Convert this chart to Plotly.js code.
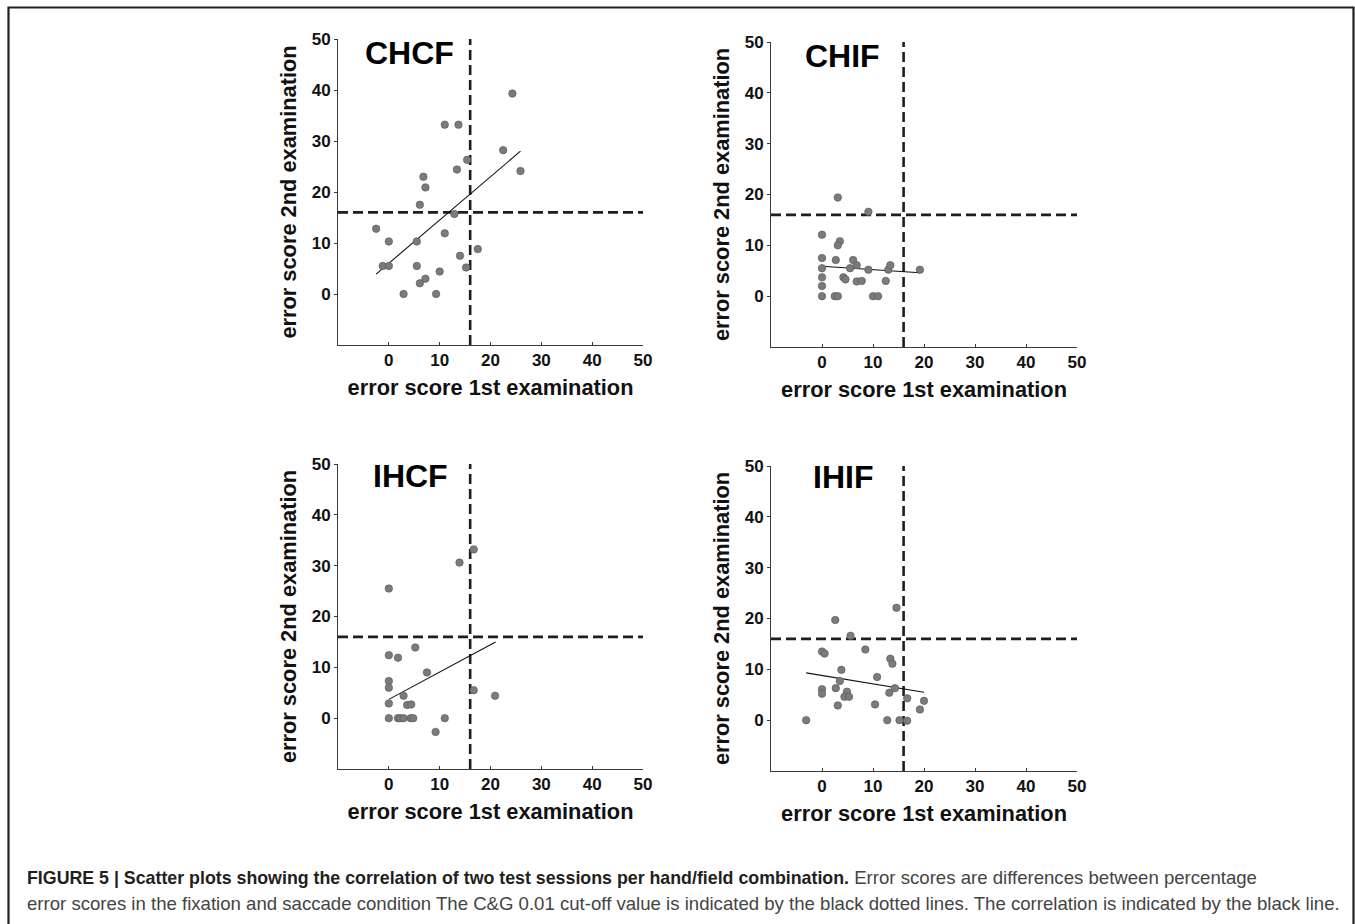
<!DOCTYPE html>
<html>
<head>
<meta charset="utf-8">
<script src="https://cdn.plot.ly/plotly-3.0.1.min.js"></script>
<style>
  html, body { margin: 0; padding: 0; background: #fff; }
  #chart { width: 1355px; height: 924px; }
</style>
</head>
<body>
<div id="chart"></div>
<script>
// ---- Data ----
const panelNames = ["CHCF", "CHIF", "IHCF", "IHIF"];
const cutoff = 16;                 // C&G 0.01 cut-off value
const axisRange = [-10, 50];
const tickValues = [0, 10, 20, 30, 40, 50];

const chcfX = [-2.5, 0, -1.2, 0, 2.9, 5.5, 5.5, 6.1, 7.2, 6.1, 6.8, 7.2, 9.3, 10.0, 11.0, 11.0, 13.7, 12.9, 13.4, 14.0, 15.2, 15.4, 17.5, 22.5, 24.3, 25.9];
const chcfY = [12.8, 10.3, 5.5, 5.5, 0, 10.3, 5.5, 2.1, 3.0, 17.5, 23.0, 20.9, 0, 4.4, 11.9, 33.2, 33.2, 15.7, 24.4, 7.5, 5.2, 26.3, 8.8, 28.2, 39.3, 24.1];
const chcfFitX = [-2.5, 25.9];
const chcfFitY = [3.9, 28.0];

const chifX = [3.1, 9.1, 0, 3.5, 3.1, 0, 2.7, 6.1, 6.8, 0, 5.5, 9.1, 13.0, 13.4, 19.2, 0, 4.2, 4.6, 6.8, 7.8, 12.5, 0, 0, 2.5, 3.1, 10.0, 11.0];
const chifY = [19.4, 16.6, 12.1, 10.8, 10.0, 7.5, 7.1, 7.1, 6.1, 5.5, 5.5, 5.2, 5.2, 6.1, 5.2, 3.7, 3.7, 3.3, 2.9, 3.0, 3.0, 2.0, 0, 0, 0, 0, 0];
const chifFitX = [0, 19.2];
const chifFitY = [5.9, 4.6];

const ihcfX = [0, 16.7, 13.9, 5.2, 0, 1.8, 7.5, 0, 0, 16.7, 2.9, 20.9, 0, 3.6, 4.4, 0, 1.8, 2.2, 2.9, 4.3, 4.8, 11.0, 9.2];
const ihcfY = [25.5, 33.2, 30.6, 13.9, 12.4, 11.9, 9.0, 7.3, 6.0, 5.5, 4.4, 4.4, 2.9, 2.6, 2.7, 0, 0, 0, 0, 0, 0, 0, -2.7];
const ihcfFitX = [0, 21.0];
const ihcfFitY = [3.7, 15.0];

const ihifX = [2.6, 14.6, 5.6, 8.5, 0, 0.5, 13.4, 13.8, 3.8, 10.8, 3.5, 0, 2.7, 14.3, 0, 4.9, 13.2, 4.4, 5.3, 16.7, 20.0, 3.1, 10.4, 19.2, -3.1, 12.8, 15.2, 16.7];
const ihifY = [19.7, 22.1, 16.6, 13.9, 13.5, 13.1, 12.1, 11.1, 9.9, 8.5, 7.7, 6.1, 6.3, 6.3, 5.2, 5.6, 5.4, 4.6, 4.6, 4.3, 3.8, 2.9, 3.1, 2.1, 0, 0, 0, -0.1];
const ihifFitX = [-3.1, 20.0];
const ihifFitY = [9.3, 5.5];

const xTitle = "error score 1st examination";
const yTitle = "error score 2nd examination";
const captionBold = "FIGURE 5 | Scatter plots showing the correlation of two test sessions per hand/field combination.";
const captionRest1 = "Error scores are differences between percentage";
const captionLine2 = "error scores in the fixation and saccade condition The C&amp;G 0.01 cut-off value is indicated by the black dotted lines. The correlation is indicated by the black line.";

// ---- Build ----
const W = 1355, H = 924;
const panels = [
  {name: panelNames[0], x: chcfX, y: chcfY, fx: chcfFitX, fy: chcfFitY, px: [338, 643], py: [39, 345], tx: -5.1, ty: 47.2},
  {name: panelNames[1], x: chifX, y: chifY, fx: chifFitX, fy: chifFitY, px: [771, 1077], py: [42, 347], tx: -3.7, ty: 47.2},
  {name: panelNames[2], x: ihcfX, y: ihcfY, fx: ihcfFitX, fy: ihcfFitY, px: [338, 643], py: [464, 769], tx: -3.5, ty: 47.6},
  {name: panelNames[3], x: ihifX, y: ihifY, fx: ihifFitX, fy: ihifFitY, px: [771, 1077], py: [466, 771], tx: -2.1, ty: 47.8}
];

const FONT = "Liberation Sans, Arial, Helvetica, sans-serif";
const traces = [];
const layout = {
  width: W, height: H,
  margin: {l: 0, r: 0, t: 0, b: 0},
  paper_bgcolor: "#ffffff",
  plot_bgcolor: "#ffffff",
  showlegend: false,
  annotations: [],
  shapes: [
    {type: "rect", xref: "paper", yref: "paper",
     x0: 8.5 / W, x1: 1353.5 / W, y0: -0.05, y1: 1 - 7.5 / H,
     line: {color: "#231f20", width: 2.2}, fillcolor: "rgba(0,0,0,0)"}
  ]
};

panels.forEach((p, i) => {
  const n = i === 0 ? "" : String(i + 1);
  const xa = "x" + n, ya = "y" + n;
  // cut-off lines
  traces.push({x: [cutoff, cutoff], y: axisRange, xaxis: xa, yaxis: ya, mode: "lines",
    line: {color: "#1e1e1e", width: 2.6, dash: "10px,5px"}, hoverinfo: "skip"});
  traces.push({x: axisRange, y: [cutoff, cutoff], xaxis: xa, yaxis: ya, mode: "lines",
    line: {color: "#1e1e1e", width: 2.6, dash: "10px,5px"}, hoverinfo: "skip"});
  // regression line
  traces.push({x: p.fx, y: p.fy, xaxis: xa, yaxis: ya, mode: "lines",
    line: {color: "#111111", width: 1.1}, hoverinfo: "skip"});
  // points
  traces.push({x: p.x, y: p.y, xaxis: xa, yaxis: ya, mode: "markers", name: p.name,
    marker: {size: 7.5, color: "#7b7b7b", line: {color: "#555555", width: 0.6}}});

  const axCommon = {
    range: axisRange, tickvals: tickValues, showgrid: false, zeroline: false,
    showline: true, linecolor: "#3a3a3a", linewidth: 1, mirror: false,
    tickcolor: "#3a3a3a", ticklen: 3, tickwidth: 1,
    tickfont: {family: FONT, size: 17, color: "#111111", weight: "bold"},
    fixedrange: true, automargin: false
  };
  layout["xaxis" + n] = Object.assign({}, axCommon, {
    domain: [p.px[0] / W, p.px[1] / W], anchor: ya, ticks: "inside",
    title: {text: xTitle, standoff: 10, font: {family: FONT, size: 21.8, color: "#111111", weight: "bold"}}
  });
  layout["yaxis" + n] = Object.assign({}, axCommon, {
    domain: [1 - p.py[1] / H, 1 - p.py[0] / H], anchor: xa, ticks: "outside",
    title: {text: yTitle, standoff: 9, font: {family: FONT, size: 21.8, color: "#111111", weight: "bold"}}
  });
  layout.annotations.push({xref: xa, yref: ya, x: p.tx, y: p.ty, xanchor: "left", yanchor: "middle",
    text: "<b>" + p.name + "</b>", showarrow: false, font: {family: FONT, size: 32, color: "#000000"}});
});

layout.annotations.push({xref: "paper", yref: "paper", x: 25 / W, y: 1 - 877 / H, xanchor: "left", yanchor: "middle",
  text: "<span style=\"font-size:17.8px;color:#231f20\"><b>" + captionBold + "</b></span> " + captionRest1,
  showarrow: false, align: "left", font: {family: FONT, size: 18.6, color: "#444444"}});
layout.annotations.push({xref: "paper", yref: "paper", x: 25 / W, y: 1 - 903 / H, xanchor: "left", yanchor: "middle",
  text: captionLine2, showarrow: false, align: "left", font: {family: FONT, size: 18.6, color: "#444444"}});

Plotly.newPlot("chart", traces, layout, {staticPlot: true, displayModeBar: false});
</script>
</body>
</html>
